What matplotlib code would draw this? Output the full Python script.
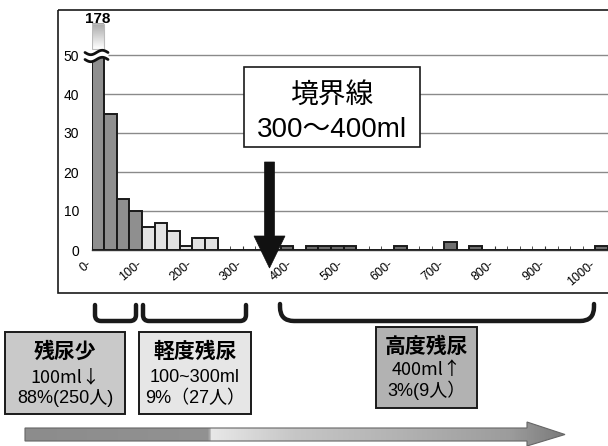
import numpy as np
import matplotlib
matplotlib.use("Agg")
import matplotlib.pyplot as plt
from matplotlib.patches import Rectangle, Polygon, PathPatch
from matplotlib.path import Path
from matplotlib.colors import LinearSegmentedColormap
import matplotlib.transforms as mtransforms

plt.rcParams['font.family'] = ['Liberation Sans', 'Noto Sans CJK JP', 'DejaVu Sans']

# ---- data (25 ml bins) ----
counts = [178, 35, 13, 10, 6, 7, 5, 1, 3, 3, 0, 0, 0, 0, 0, 1, 0, 1, 1, 1,
          1, 0, 0, 0, 1, 0, 0, 0, 2, 0, 1, 0, 0, 0, 0, 0, 0, 0, 0, 0, 1]
groups = ['low'] * 4 + ['mild'] * 8 + ['high'] * 29
tick_positions = [0, 4, 8, 12, 16, 20, 24, 28, 32, 36, 40]
tick_labels = ["0-", "100-", "200-", "300-", "400-", "500-", "600-", "700-", "800-", "900-", "1000-"]
y_ticks = [0, 10, 20, 30, 40, 50]
y_cap = 50
box_titles = ["残尿少", "軽度残尿", "高度残尿"]
box_line2 = ["100ml↓", "100~300ml", "400ml↑"]
box_line3 = ["88%(250人)", "9%（27人）", "3%(9人）"]
boundary_text = ["境界線", "300～400ml"]

group_colors = {'low': '#8f8f8f', 'mild': '#e3e3e3', 'high': '#6e6e6e'}

W, H = 608, 446
fig = plt.figure(figsize=(W / 100, H / 100), dpi=100)

# main axes
x0p, y0p, y60p = 91.7, 250.0, 16.0
binpx = 12.65
ax = fig.add_axes([x0p / W, (H - y0p) / H, (W - x0p) / W, (y0p - y60p) / H])
ax.set_xlim(0, (W - x0p) / binpx)
ax.set_ylim(0, 60)
for s in ax.spines.values():
    s.set_visible(False)
ax.spines['bottom'].set_visible(True)
ax.spines['bottom'].set_color('#333333')
ax.spines['bottom'].set_linewidth(1.0)

n = len(counts)
heights = [min(c, y_cap) for c in counts]
colors = [group_colors[g] for g in groups]
ax.bar(np.arange(n), heights, width=1, align='edge', color=colors,
       edgecolor='#1a1a1a', linewidth=1.4, zorder=3)

# grid
ax.set_yticks(y_ticks)
ax.set_yticklabels([str(v) for v in y_ticks], fontsize=10)
ax.tick_params(axis='y', length=0, pad=9)
for v in y_ticks[1:]:
    ax.axhline(v, color='#8a8a8a', lw=1.0, zorder=1)

# x ticks
ax.set_xticks(tick_positions)
ax.set_xticklabels(tick_labels, rotation=40, ha='right', fontsize=9)
ax.set_xticks(np.arange(0, n + 1), minor=True)
ax.tick_params(axis='x', which='major', direction='in', length=3, color='#333333', pad=6)
ax.tick_params(axis='x', which='minor', direction='in', length=3, color='#333333')
offset = mtransforms.ScaledTranslation(2 / 100, 0, fig.dpi_scale_trans)
for lbl in ax.get_xticklabels():
    lbl.set_transform(lbl.get_transform() + offset)

# broken first bar: gradient stub above the cap
grad = np.linspace(0, 1, 64).reshape(-1, 1)
cmap = LinearSegmentedColormap.from_list('g', ['#ffffff', '#a8a8a8'])
ax.imshow(grad, extent=[0.05, 0.95, y_cap + 1.5, 58], aspect='auto', cmap=cmap,
          origin='lower', zorder=2, interpolation='bilinear')
ax.add_patch(Rectangle((0.05, y_cap + 1.5), 0.9, 58 - y_cap - 1.5, fill=False,
                       edgecolor='#bbbbbb', lw=0.8, zorder=2))
ax.text(0.5, 59.3, str(counts[0]), ha='center', va='center', fontsize=11,
        fontweight='bold', zorder=5)

# overlay in pixel coordinates
ov = fig.add_axes([0, 0, 1, 1], zorder=10)
ov.set_xlim(0, W)
ov.set_ylim(H, 0)
ov.axis('off')

# break mark (two waves)
wx = np.linspace(85, 108, 60)
wave = 2.2 * np.sin(2 * np.pi * (wx - 85) / 23.0)
ov.fill_between(wx, 52.5 + wave, 59.5 + wave, color='white', lw=0)
ov.plot(wx, 52.5 + wave, color='#111111', lw=2.0, solid_capstyle='round')
ov.plot(wx, 59.5 + wave, color='#111111', lw=2.0, solid_capstyle='round')

# outer frame
ov.add_patch(Rectangle((58, 9.5), 560, 283.5, fill=False, edgecolor='#1a1a1a', lw=1.2))

# boundary box
ov.add_patch(Rectangle((244, 67), 176, 80, facecolor='white', edgecolor='#1a1a1a', lw=1.2))
ov.text(332, 96, boundary_text[0], ha='center', va='center', fontsize=20)
ov.text(332, 130, boundary_text[1], ha='center', va='center', fontsize=20)

# down arrow
ov.add_patch(Polygon([(264.5, 162), (274.5, 162), (274.5, 236), (285, 236),
                      (269.5, 268), (254, 236), (264.5, 236)],
                     closed=True, facecolor='#111111', edgecolor='#111111', lw=0.5))

# brackets
def bracket(xa, xb, yt, yb, r):
    verts = [(xa, yt), (xa, yb - r), (xa, yb), (xa + r, yb), (xb - r, yb),
             (xb, yb), (xb, yb - r), (xb, yt)]
    codes = [Path.MOVETO, Path.LINETO, Path.CURVE3, Path.CURVE3, Path.LINETO,
             Path.CURVE3, Path.CURVE3, Path.LINETO]
    return PathPatch(Path(verts, codes), fill=False, edgecolor='#1a1a1a', lw=3.2,
                     capstyle='round', joinstyle='round')

ov.add_patch(bracket(95, 136, 305, 321, 6))
ov.add_patch(bracket(143, 246, 305, 321, 6))
ov.add_patch(bracket(280, 594, 304, 321, 14))

# category boxes
boxes = [(5, 332, 120, 82, '#c9c9c9'),
         (139, 332, 112, 82, '#e6e6e6'),
         (376, 327, 101, 81, '#b2b2b2')]
cjk_first = ['Noto Sans CJK JP', 'Liberation Sans']
for i, (bx, by, bw, bh, fc) in enumerate(boxes):
    ov.add_patch(Rectangle((bx, by), bw, bh, facecolor=fc, edgecolor='#1a1a1a', lw=1.4))
    cx = bx + bw / 2
    dy = [20, 45, 66] if i < 2 else [20, 43, 63]
    ov.text(cx, by + dy[0], box_titles[i], ha='center', va='center', fontsize=15,
            fontweight='bold')
    fam2 = cjk_first if ('↓' in box_line2[i] or '↑' in box_line2[i]) else None
    if fam2:
        ov.text(cx, by + dy[1], box_line2[i], ha='center', va='center', fontsize=13,
                family=fam2)
    else:
        ov.text(cx, by + dy[1], box_line2[i], ha='center', va='center', fontsize=13)
    ov.text(cx, by + dy[2], box_line3[i], ha='center', va='center', fontsize=13)

# bottom gradient arrow
arrow_pts = [(25, 428), (527, 428), (527, 422), (565, 434.5), (527, 446),
             (527, 441), (25, 441)]
arrow = Polygon(arrow_pts, closed=True, facecolor='none', edgecolor='#666666', lw=0.8)
ov.add_patch(arrow)
gcmap = LinearSegmentedColormap.from_list('a', [
    (0.0, '#8c8c8c'), (0.34, '#929292'), (0.345, '#e8e8e8'), (0.5, '#c6c6c6'),
    (0.7, '#b2b2b2'), (0.9, '#9c9c9c'), (1.0, '#7a7a7a')])
img = ov.imshow(np.linspace(0, 1, 512).reshape(1, -1), extent=[25, 565, 446, 422],
                aspect='auto', cmap=gcmap, interpolation='bilinear', zorder=0.5)
clip = Polygon(arrow_pts, closed=True, transform=ov.transData)
img.set_clip_path(clip)
ov.set_xlim(0, W)
ov.set_ylim(H, 0)

fig.savefig('out.png', dpi=100)
